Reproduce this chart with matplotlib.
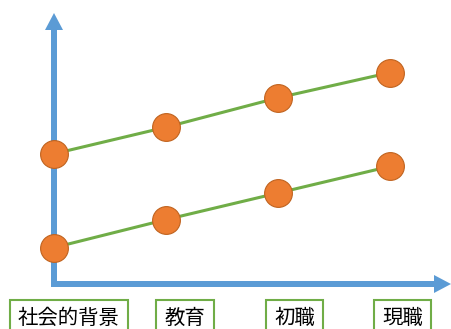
import matplotlib
matplotlib.use("Agg")
from matplotlib import pyplot as plt

plt.rcParams["font.family"] = ["Noto Sans CJK JP", "DejaVu Sans"]

# Data
categories = ["社会的背景", "教育", "初職", "現職"]
lower = [1.3, 2.3, 3.25, 4.2]
upper = [4.65, 5.6, 6.65, 7.55]
label_x = [0.134, 1.17, 2.15, 3.11]

blue = "#5B9BD5"
green = "#70AD47"
orange = "#ED7D31"

fig = plt.figure(figsize=(4.52, 3.29), dpi=100)

# decoration layer in pixel units (axis arrows)
deco = fig.add_axes([0, 0, 1, 1])
deco.set_xlim(0, 452)
deco.set_ylim(329, 0)
deco.axis("off")
deco.arrow(54, 287, 0, -274, width=6, head_width=18, head_length=17,
           length_includes_head=True, color=blue, lw=0)
deco.arrow(51, 284, 400, 0, width=6, head_width=18, head_length=17,
           length_includes_head=True, color=blue, lw=0)

# data layer
ax = fig.add_axes([0, 0, 1, 1])
ax.patch.set_alpha(0)
ax.set_xlim(-54 / 112, (452 - 54) / 112)
ax.set_ylim(-(329 - 284) / 28, 284 / 28)
ax.axis("off")

xs = range(len(categories))
for series in (lower, upper):
    ax.plot(xs, series, color=green, lw=2.2, zorder=2)
    ax.plot(xs, series, "o", ms=20, mfc=orange, mec="#C0631F", mew=0.8, zorder=3)

for lx, name in zip(label_x, categories):
    ax.text(lx, -1.24, name, ha="center", va="center", fontsize=14.7,
            bbox=dict(boxstyle="square,pad=0.4", fc="white", ec=green, lw=1.5))

fig.savefig("out.png", dpi=100)
